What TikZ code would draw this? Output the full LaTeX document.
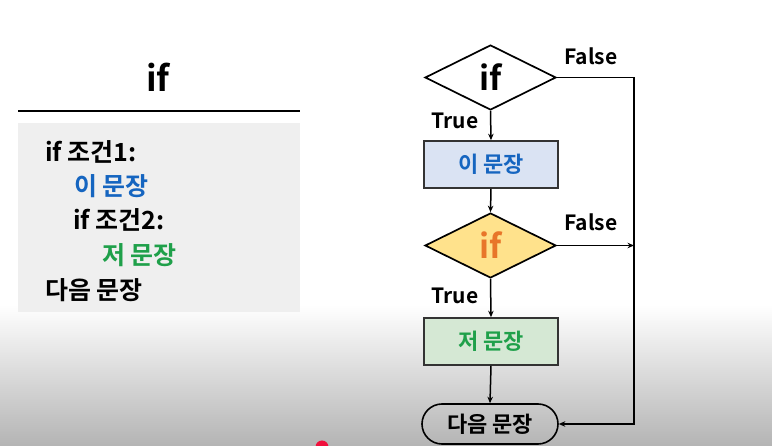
\documentclass[tikz,border=0pt]{standalone}
\usepackage{fontspec}
\setmainfont{Noto Sans CJK KR}[BoldFont={* Bold}]
\newfontfamily\kr{Noto Sans CJK KR Bold}
\usetikzlibrary{shapes.geometric,shapes.misc,arrows.meta}
\definecolor{boxgray}{HTML}{EFEFEF}
\definecolor{codeblue}{HTML}{1565C0}
\definecolor{codegreen}{HTML}{1FA04A}
\definecolor{fillblue}{HTML}{DAE3F3}
\definecolor{fillgreen}{HTML}{D5E8D4}
\definecolor{fillyellow}{HTML}{FFE28C}
\definecolor{iforange}{HTML}{E8762A}
\definecolor{bgbottom}{HTML}{B4B4B4}
\definecolor{dotred}{HTML}{F0103C}
\begin{document}
\begin{tikzpicture}[x=1pt,y=-1pt,
  code/.style={anchor=base west,inner sep=0pt,font=\kr\fontsize{25}{25}\selectfont},
  dec/.style={diamond,draw=black,line width=1.7pt,minimum width=131pt,minimum height=65pt,inner sep=0pt,aspect=2,font=\kr\fontsize{33}{33}\selectfont},
  stmt/.style={rectangle,draw=black!80,line width=1.6pt,minimum width=134pt,minimum height=47pt,inner sep=0pt,font=\kr\fontsize{22}{22}\selectfont},
  term/.style={rounded rectangle,draw=black,line width=1.6pt,minimum width=136pt,minimum height=40pt,inner sep=0pt,font=\kr\fontsize{22}{22}\selectfont},
  lbl/.style={inner sep=0pt,font=\kr\fontsize{21}{21}\selectfont},
  conn/.style={line width=1.5pt,-{Stealth[length=6.5pt,width=5.5pt]}}]
\useasboundingbox (0,0) rectangle (772,446);
\fill[white] (0,0) rectangle (772,305);
\shade[top color=white,bottom color=bgbottom] (0,305) rectangle (772,446);
\fill[dotred] (322,447) circle (6.5pt);
% left panel
\node[inner sep=0pt,font=\kr\fontsize{35}{35}\selectfont] (title) at (158,77) {if};
\draw[line width=2.6pt] (18,111) -- (300,111);
\fill[boxgray] (18,123) rectangle (300,312);
\node[code] (c1) at (45,162) {if 조건1:};
\node[code,text=codeblue] (c2) at (74,196) {이 문장};
\node[code] (c3) at (73,230) {if 조건2:};
\node[code,text=codegreen] (c4) at (102,265) {저 문장};
\node[code] (c5) at (45,300) {다음 문장};
% flowchart
\node[dec,fill=white] (d1) at (490.5,77.5) {if};
\node[stmt,fill=fillblue,text=codeblue] (s1) at (491,164.5) {이 문장};
\node[dec,fill=fillyellow,text=iforange] (d2) at (490.5,245.5) {if};
\node[stmt,fill=fillgreen,text=codegreen] (s2) at (491,341.5) {저 문장};
\node[term] (t) at (490,424) {다음 문장};
\coordinate (rtop) at (634,77.5);
\coordinate (rbot) at (634,424);
\coordinate (rmid) at (634,245.5);
\draw[conn] (d1.south) -- (s1.north);
\draw[conn] (s1.south) -- (d2.north);
\draw[conn] (d2.south) -- (s2.north);
\draw[conn] (s2.south) -- (t.north);
\draw[conn] (d1.east) -- (rtop) -- (rbot) -- (t.east);
\draw[conn] (d2.east) -- (rmid);
\node[lbl] (f1) at (591,56) {False};
\node[lbl] (f2) at (591,222) {False};
\node[lbl] (tr1) at (455,121) {True};
\node[lbl] (tr2) at (455,296) {True};
\end{tikzpicture}
\end{document}
